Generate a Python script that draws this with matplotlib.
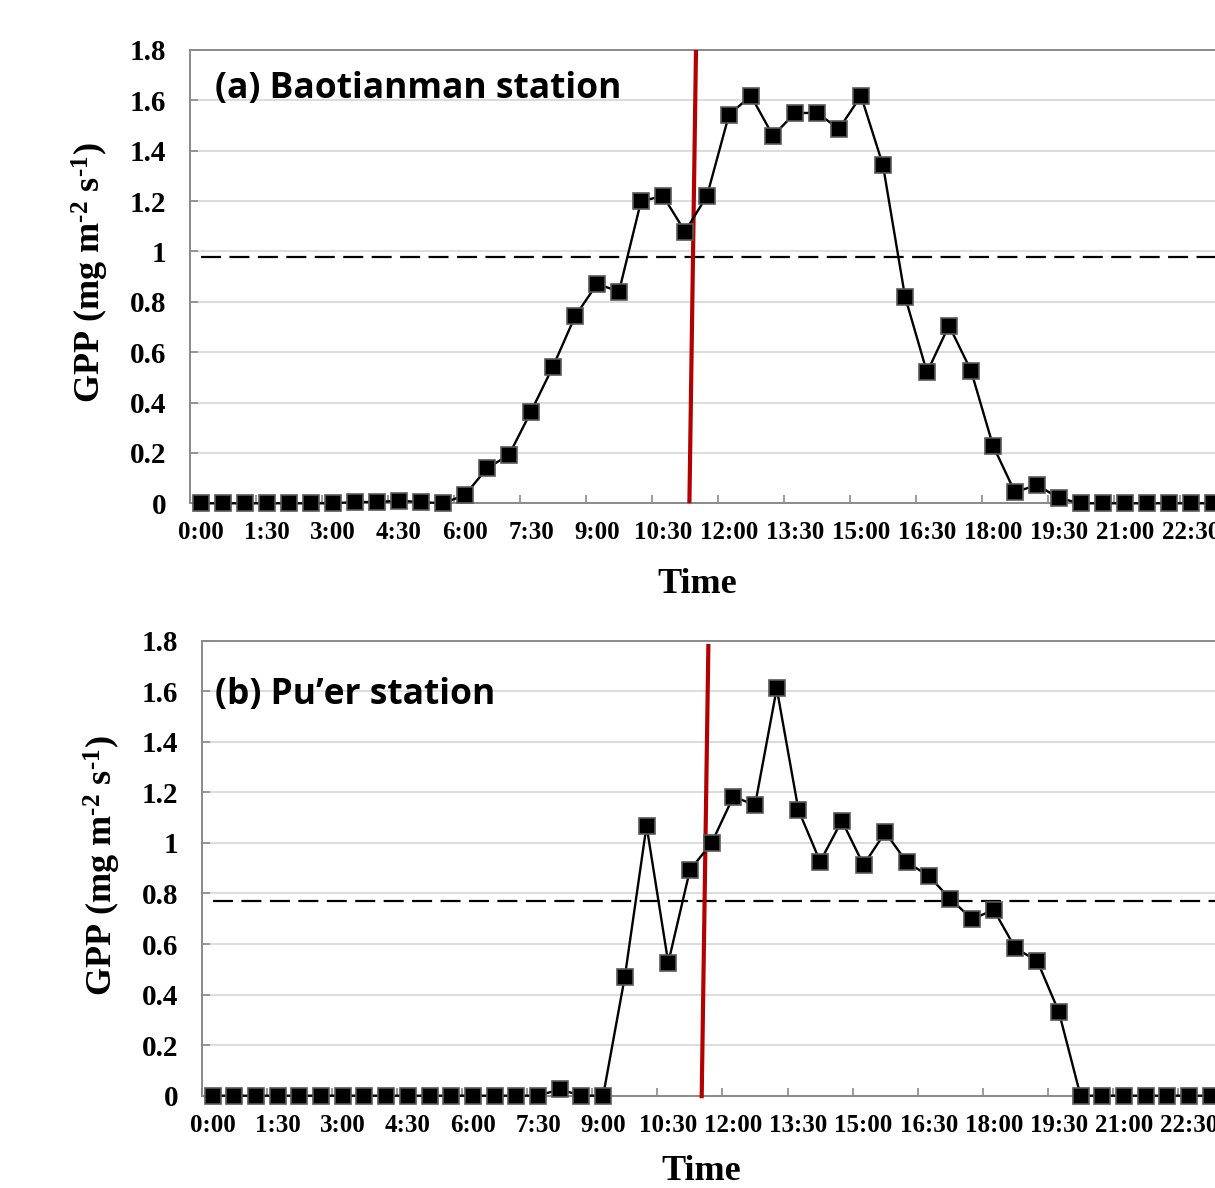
import matplotlib
matplotlib.use("Agg")
import matplotlib.pyplot as plt
import numpy as np

# ---------------- data ----------------
n_slots = 48  # half-hourly slots 0:00 .. 23:30
tick_positions = [0, 3, 6, 9, 12, 15, 18, 21, 24, 27, 30, 33, 36, 39, 42, 45]
tick_labels = ["0:00", "1:30", "3:00", "4:30", "6:00", "7:30", "9:00", "10:30",
               "12:00", "13:30", "15:00", "16:30", "18:00", "19:30", "21:00", "22:30"]

gpp_baotianman = [0, 0, 0, 0, 0, 0, 0, 0.005, 0.005, 0.01, 0.005, 0,
                  0.033, 0.139, 0.192, 0.364, 0.543, 0.742, 0.871, 0.841,
                  1.199, 1.221, 1.079, 1.221, 1.543, 1.618, 1.459, 1.55,
                  1.55, 1.487, 1.618, 1.342, 0.821, 0.52, 0.706, 0.527,
                  0.229, 0.044, 0.073, 0.02, 0, 0, 0, 0, 0, 0, 0, 0]
gpp_puer = [0, 0, 0, 0, 0, 0, 0, 0, 0, 0, 0, 0, 0, 0, 0, 0,
            0.025, 0, 0, 0.471, 1.068, 0.526, 0.893, 1.0, 1.183, 1.15,
            1.611, 1.13, 0.926, 1.088, 0.913, 1.042, 0.923, 0.87, 0.778,
            0.699, 0.735, 0.583, 0.534, 0.332, 0, 0, 0, 0, 0, 0, 0, 0]

mean_baotianman = 0.977
mean_puer = 0.770

# red marker line: (x at bottom, y bottom), (x at top, y top)
red_line_a_x = [22.2, 22.5]
red_line_a_y = [0.0, 1.8]
red_line_b_x = [22.54, 22.85]
red_line_b_y = [-0.01, 1.787]

ytick_values = [0, 0.2, 0.4, 0.6, 0.8, 1.0, 1.2, 1.4, 1.6, 1.8]
ytick_labels = ["0", "0.2", "0.4", "0.6", "0.8", "1", "1.2", "1.4", "1.6", "1.8"]

titles = ["(a) Baotianman station", "(b) Pu\u2019er station"]

# ---------------- style ----------------
plt.rcParams["mathtext.fontset"] = "custom"
plt.rcParams["mathtext.rm"] = "Liberation Serif:bold"
plt.rcParams["mathtext.bf"] = "Liberation Serif:bold"
plt.rcParams["mathtext.it"] = "Liberation Serif:bold"

W, H = 1215, 1188
DPI = 100
fig = plt.figure(figsize=(W / DPI, H / DPI), dpi=DPI)
fig.patch.set_facecolor("white")

def px_axes(left, top, right, bottom):
    return [left / W, (H - bottom) / H, (right - left) / W, (bottom - top) / H]

spine_col = "#8a8a8a"
grid_col = "#d9d9d9"

panels = [
    dict(rect=px_axes(190, 50, 1246, 503.3), data=gpp_baotianman, mean=mean_baotianman,
         rx=red_line_a_x, ry=red_line_a_y, title=titles[0], title_xy=(215, 98),
         xlabel_xy=(697, 593), ylabel_xy=(90, 273)),
    dict(rect=px_axes(201.7, 640.7, 1243.3, 1095.7), data=gpp_puer, mean=mean_puer,
         rx=red_line_b_x, ry=red_line_b_y, title=titles[1], title_xy=(215, 704),
         xlabel_xy=(701, 1180), ylabel_xy=(102, 866)),
]

x = np.arange(n_slots)
ylabel_text = "GPP (mg m$^{\\mathrm{\u20102}}$ s$^{\\mathrm{\u20101}}$)"

for p in panels:
    ax = fig.add_axes(p["rect"])
    ax.set_xlim(-0.5, 47.5)
    ax.set_ylim(0, 1.8)
    ax.set_facecolor("white")

    # grid
    ax.set_yticks(ytick_values)
    ax.set_yticklabels(ytick_labels)
    ax.yaxis.grid(True, color=grid_col, lw=1.3, zorder=0)
    ax.set_axisbelow(True)

    # x ticks: labels at categories, tick marks between groups
    ax.set_xticks(tick_positions)
    ax.set_xticklabels(tick_labels)
    ax.set_xticks(np.arange(-0.5, 48, 3), minor=True)
    ax.tick_params(axis="x", which="major", length=0, pad=13)
    ax.tick_params(axis="x", which="minor", length=6, width=1.2, direction="in", color=spine_col)
    ax.tick_params(axis="y", which="major", length=6, width=1.2, direction="in",
                   color=spine_col, pad=17)
    for lab in ax.get_xticklabels():
        lab.set_fontfamily("Liberation Serif")
        lab.set_fontweight("bold")
        lab.set_fontsize(18)
    for lab in ax.get_yticklabels():
        lab.set_fontfamily("Liberation Serif")
        lab.set_fontweight("bold")
        lab.set_fontsize(21)

    for s in ax.spines.values():
        s.set_color(spine_col)
        s.set_linewidth(1.4)

    # mean dashed line
    ax.plot([0, 47], [p["mean"], p["mean"]], color="black", lw=1.6,
            dashes=(9, 3.8), zorder=2)
    # red line
    ax.plot(p["rx"], p["ry"], color="#b30000", lw=3.0, zorder=4, clip_on=False,
            solid_capstyle="butt")
    # data series
    ax.plot(x, p["data"], color="black", lw=1.7, marker="s", ms=12,
            mfc="black", mec="#5a5a5a", mew=1.2, zorder=5, clip_on=False)

    # title
    fig.text(p["title_xy"][0] / W, (H - p["title_xy"][1]) / H, p["title"],
             fontfamily="Open Sans", fontweight="bold", fontsize=25.5,
             ha="left", va="baseline")
    fig.text(p["xlabel_xy"][0] / W, (H - p["xlabel_xy"][1]) / H, "Time",
             fontfamily="Liberation Serif", fontweight="bold", fontsize=26,
             ha="center", va="baseline")
    fig.text(p["ylabel_xy"][0] / W, (H - p["ylabel_xy"][1]) / H, ylabel_text,
             fontfamily="Liberation Serif", fontweight="bold", fontsize=26,
             rotation=90, ha="center", va="center")

fig.savefig("out.png", dpi=DPI, facecolor="white")
